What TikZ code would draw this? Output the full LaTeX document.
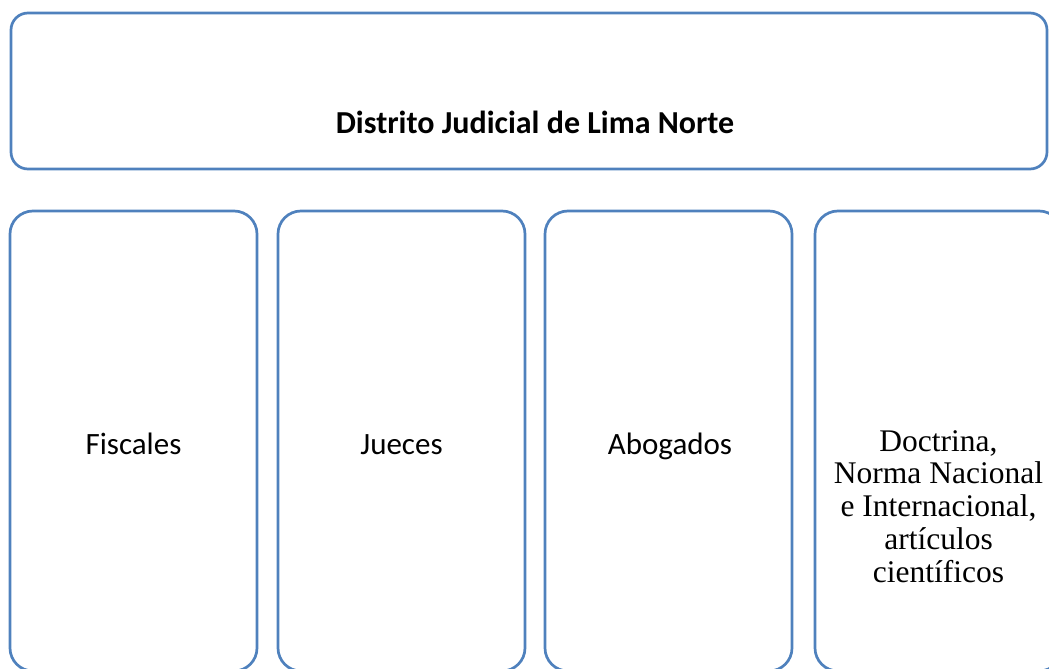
\documentclass[tikz,border=0pt]{standalone}
\usepackage{fontspec}
\setmainfont{Carlito}
\newfontfamily\timesf{Liberation Serif}
\definecolor{boxblue}{HTML}{4F81BD}
\begin{document}
\begin{tikzpicture}[x=1pt,y=-1pt,
  frame/.style={draw=boxblue, line width=2.7pt, inner sep=0pt, rectangle},
  topbox/.style={frame, rounded corners=17pt, minimum width=1036pt, minimum height=156pt},
  colbox/.style={frame, rounded corners=23pt, minimum width=247pt, minimum height=460pt},
  titletext/.style={font=\fontsize{32}{38}\selectfont\bfseries, inner sep=0pt, anchor=base},
  coltext/.style={font=\fontsize{31}{37}\selectfont, inner sep=0pt, anchor=base},
  sertext/.style={font=\timesf\fontsize{31.5}{32.8}\selectfont, align=center, inner sep=0pt}]
\useasboundingbox (0,0) rectangle (1049,669);
\clip (0,0) rectangle (1049,669);
\node[topbox] (top) at (529,91) {};
\node[titletext] (title) at (535,133) {Distrito Judicial de Lima Norte};
\node[colbox] (b1) at (133.5,441) {};
\node[colbox] (b2) at (401.5,441) {};
\node[colbox] (b3) at (668.5,441) {};
\node[colbox] (b4) at (938.5,441) {};
\node[coltext] (t1) at (133.5,454) {Fiscales};
\node[coltext] (t2) at (401.5,454) {Jueces};
\node[coltext] (t3) at (670,454) {Abogados};
\node[sertext] (t4) at (938.5,506.5) {Doctrina,\\Norma Nacional\\e Internacional,\\artículos\\científicos};
\end{tikzpicture}
\end{document}
